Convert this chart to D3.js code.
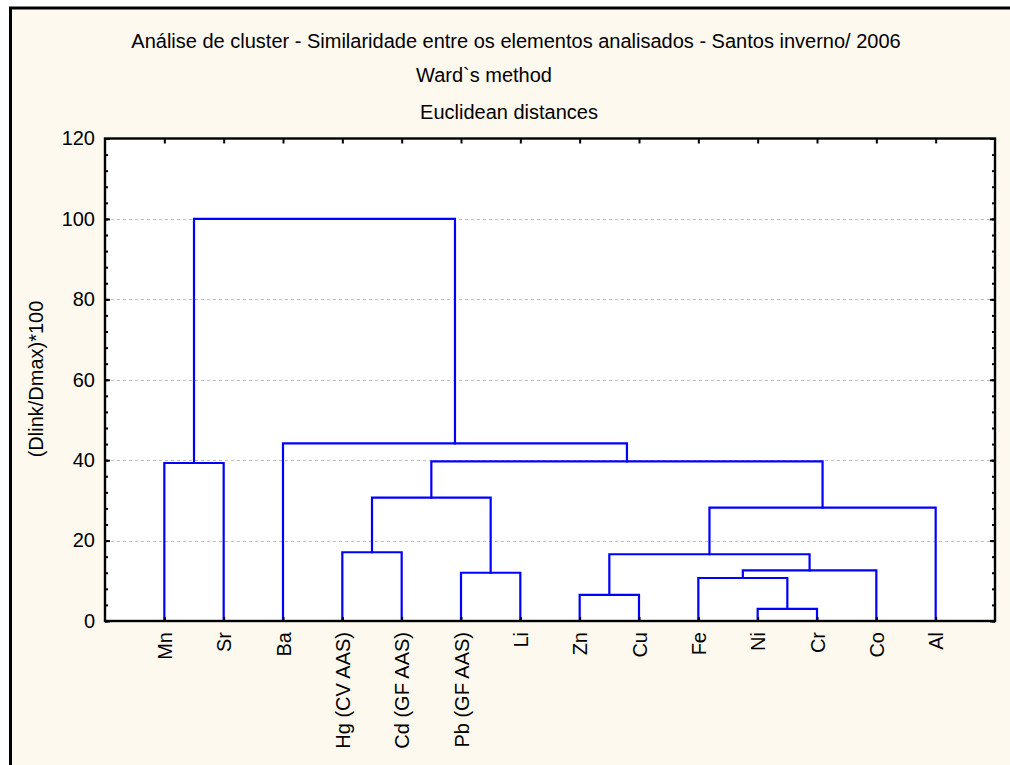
<!DOCTYPE html>
<html>
<head>
<meta charset="utf-8">
<script src="https://cdn.jsdelivr.net/npm/d3@7"></script>
<style>
  body { margin: 0; background: #ffffff; }
  text { font-family: "Liberation Sans", Arial, sans-serif; fill: #000; }
</style>
</head>
<body>
<svg id="chart" width="1010" height="765"></svg>
<script>
// Leaves of the dendrogram, in drawing order
const leaves = ["Mn", "Sr", "Ba", "Hg (CV AAS)", "Cd (GF AAS)", "Pb (GF AAS)", "Li",
                "Zn", "Cu", "Fe", "Ni", "Cr", "Co", "Al"];

// Agglomeration steps: each pair joins two clusters (a leaf name or "#k" = result of step k)
const mergePairs = [
  ["Ni", "Cr"],
  ["Zn", "Cu"],
  ["Fe", "#0"],
  ["Pb (GF AAS)", "Li"],
  ["#2", "Co"],
  ["#1", "#4"],
  ["Hg (CV AAS)", "Cd (GF AAS)"],
  ["#5", "Al"],
  ["#6", "#3"],
  ["Mn", "Sr"],
  ["#8", "#7"],
  ["Ba", "#10"],
  ["#9", "#11"]
];
// Linkage distance of each step, (Dlink/Dmax)*100
const mergeHeights = [3.0, 6.5, 10.7, 12.0, 12.6, 16.6, 17.1, 28.2, 30.7, 39.3, 39.7, 44.2, 100];

const yMajorTicks = [0, 20, 40, 60, 80, 100, 120];
const yGridTicks = [20, 40, 60, 80, 100];
const yMinorTicks = d3.range(0, 121, 4);

const titleLines = [
  "Análise de cluster - Similaridade entre os elementos analisados - Santos inverno/ 2006",
  "Ward`s method",
  "Euclidean distances"
];
const yAxisTitle = "(Dlink/Dmax)*100";

const svg = d3.select("#chart");
const W = 1010, H = 765;
const FS = 20;
const plot = { left: 105, right: 995, top: 138.5, bottom: 621 };

// Window frame with cream background
svg.append("rect").attr("x", 10.5).attr("y", 8).attr("width", W + 20).attr("height", H + 20)
  .attr("fill", "#fdf9ef").attr("stroke", "#000").attr("stroke-width", 3);

const x = d3.scaleLinear().domain([0, leaves.length + 1]).range([plot.left, plot.right]);
const y = d3.scaleLinear().domain([0, 120]).range([plot.bottom, plot.top]);

// Plot area
svg.append("rect").attr("x", plot.left).attr("y", plot.top)
  .attr("width", plot.right - plot.left).attr("height", plot.bottom - plot.top)
  .attr("fill", "#ffffff");

// Gridlines
svg.append("g").selectAll("line").data(yGridTicks).join("line")
  .attr("x1", plot.left).attr("x2", plot.right)
  .attr("y1", d => Math.round(y(d)) + 0.5).attr("y2", d => Math.round(y(d)) + 0.5)
  .attr("stroke", "#bdbdbd").attr("stroke-width", 1).attr("stroke-dasharray", "3,3");

// Titles
const titleY = [48, 82, 119];
const titleX = [516, 484, 509];
svg.append("g").selectAll("text").data(titleLines).join("text")
  .attr("x", (d, i) => titleX[i]).attr("y", (d, i) => titleY[i])
  .attr("text-anchor", "middle").attr("font-size", FS).text(d => d);

// Dendrogram links
const nodes = {};
leaves.forEach((name, i) => { nodes[name] = { x: x(i + 1), h: 0 }; });
const links = svg.append("g").attr("fill", "none").attr("stroke", "#0000ff")
  .attr("stroke-width", 2.2).attr("stroke-linejoin", "miter").attr("stroke-linecap", "square");
mergePairs.forEach(([a, b], k) => {
  const L = nodes[a], R = nodes[b], h = mergeHeights[k];
  links.append("path")
    .attr("d", `M${L.x},${y(L.h)}V${y(h)}H${R.x}V${y(R.h)}`);
  nodes["#" + k] = { x: (L.x + R.x) / 2, h: h };
});

// Axes with inward ticks
const axisStyle = g => {
  g.selectAll(".domain").remove();
  g.selectAll(".tick line").attr("stroke", "#000").attr("stroke-width", 2);
  g.selectAll("text").attr("font-size", FS).attr("font-family", "Liberation Sans, Arial, sans-serif");
};

svg.append("g").attr("transform", `translate(${plot.left},0)`)
  .call(d3.axisLeft(y).tickValues(yMinorTicks).tickSize(-3).tickFormat(""))
  .call(axisStyle);
svg.append("g").attr("transform", `translate(${plot.left},0)`)
  .call(d3.axisLeft(y).tickValues(yMajorTicks).tickSize(-5).tickPadding(10).tickFormat(d3.format("d")))
  .call(axisStyle);
svg.append("g").attr("transform", `translate(${plot.right},0)`)
  .call(d3.axisRight(y).tickValues(yMinorTicks).tickSize(-3).tickFormat(""))
  .call(axisStyle);
svg.append("g").attr("transform", `translate(${plot.right},0)`)
  .call(d3.axisRight(y).tickValues(yMajorTicks).tickSize(-5).tickFormat(""))
  .call(axisStyle);

const leafTicks = d3.range(1, leaves.length + 1);
svg.append("g").attr("transform", `translate(0,${plot.top})`)
  .call(d3.axisTop(x).tickValues(leafTicks).tickSize(-5).tickFormat(""))
  .call(axisStyle);
const bottomAxis = svg.append("g").attr("transform", `translate(0,${plot.bottom})`)
  .call(d3.axisBottom(x).tickValues(leafTicks).tickSize(-4).tickPadding(0).tickFormat(i => leaves[i - 1]))
  .call(axisStyle);
bottomAxis.selectAll("text")
  .attr("transform", "rotate(-90)")
  .attr("x", -11).attr("y", 0).attr("dy", "0.35em")
  .attr("text-anchor", "end");

// Plot frame
svg.append("rect").attr("x", plot.left).attr("y", plot.top)
  .attr("width", plot.right - plot.left).attr("height", plot.bottom - plot.top)
  .attr("fill", "none").attr("stroke", "#000").attr("stroke-width", 2.4);

// Y axis title
svg.append("text")
  .attr("transform", `translate(43,379) rotate(-90)`)
  .attr("text-anchor", "middle").attr("font-size", FS).text(yAxisTitle);
</script>
</body>
</html>
